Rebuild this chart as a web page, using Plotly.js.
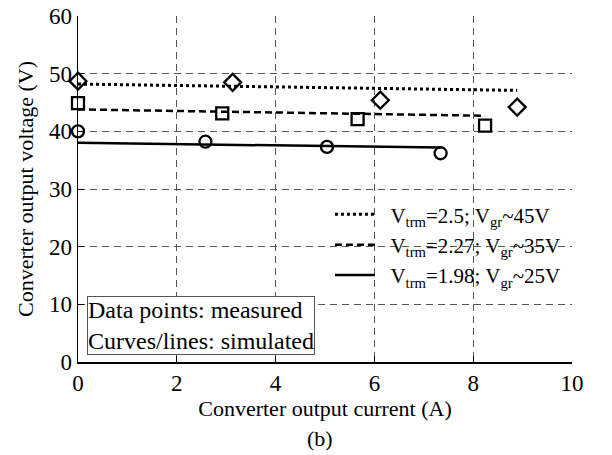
<!DOCTYPE html>
<html>
<head>
<meta charset="utf-8">
<script src="https://cdn.plot.ly/plotly-3.0.1.min.js"></script>
<style>html,body{margin:0;padding:0;background:#fff;}#chart{width:612px;height:455px;}</style>
</head>
<body>
<div id="chart"></div>
<script>
// Measured data points
const measX_25 = [0, 3.13, 6.12, 8.89];
const measY_25 = [48.7, 48.5, 45.4, 44.2];
const measX_227 = [0, 2.92, 5.66, 8.24];
const measY_227 = [44.9, 43.1, 42.1, 41.0];
const measX_198 = [0, 2.58, 5.04, 7.34];
const measY_198 = [40.0, 38.2, 37.3, 36.2];
// Simulated lines
const simX_25 = [0, 8.89];
const simY_25 = [48.2, 47.1];
const simX_227 = [0, 8.24];
const simY_227 = [43.8, 42.7];
const simX_198 = [0, 7.34];
const simY_198 = [38.0, 37.2];
const legendNames = [
  '&nbsp;&nbsp;V<sub>trm</sub>=2.5; V<sub>gr</sub>~45V',
  '&nbsp;&nbsp;V<sub>trm</sub>=2.27; V<sub>gr</sub>~35V',
  '&nbsp;&nbsp;V<sub>trm</sub>=1.98; V<sub>gr</sub>~25V'
];
const xTicks = [0, 2, 4, 6, 8, 10];
const yTicks = [0, 10, 20, 30, 40, 50, 60];

const FONT = 'Liberation Serif, Times New Roman, serif';
const traces = [
  {x: simX_25, y: simY_25, mode: 'lines', name: legendNames[0], legendgroup: 'a',
   line: {color: '#000', width: 3, dash: 'dot'}},
  {x: simX_227, y: simY_227, mode: 'lines', name: legendNames[1], legendgroup: 'b',
   line: {color: '#000', width: 2.5, dash: '7px,4px'}},
  {x: simX_198, y: simY_198, mode: 'lines', name: legendNames[2], legendgroup: 'c',
   line: {color: '#000', width: 2.5}},
  {x: measX_25, y: measY_25, mode: 'markers', showlegend: false, cliponaxis: false,
   marker: {symbol: 'diamond-open', size: 13, color: '#000', line: {width: 2.3, color: '#000'}}},
  {x: measX_227, y: measY_227, mode: 'markers', showlegend: false, cliponaxis: false,
   marker: {symbol: 'square-open', size: 12, color: '#000', line: {width: 2.3, color: '#000'}}},
  {x: measX_198, y: measY_198, mode: 'markers', showlegend: false, cliponaxis: false,
   marker: {symbol: 'circle-open', size: 12, color: '#000', line: {width: 2.3, color: '#000'}}}
];

const layout = {
  width: 612, height: 455,
  margin: {l: 78, r: 40, t: 16, b: 93},
  paper_bgcolor: '#fff', plot_bgcolor: '#fff',
  font: {family: FONT, color: '#000', size: 22},
  showlegend: true,
  legend: {x: 0.51, y: 0.485, xanchor: 'left', yanchor: 'top', bgcolor: 'rgba(0,0,0,0)',
           borderwidth: 0, itemwidth: 40, font: {family: FONT, size: 21, color: '#000'}, tracegroupgap: 0},
  xaxis: {range: [0, 10], tickvals: xTicks, ticktext: xTicks.map(String),
          showgrid: true, gridcolor: '#555', griddash: '7px,5px', gridwidth: 1,
          zeroline: false, showline: true, linecolor: '#000', linewidth: 1.5,
          ticks: 'inside', ticklen: 6, tickcolor: '#000',
          tickfont: {family: FONT, size: 23},
          title: {text: 'Converter output current (A)', font: {family: FONT, size: 22}, standoff: 2}},
  yaxis: {range: [0, 60], tickvals: yTicks, ticktext: yTicks.map(String),
          showgrid: true, gridcolor: '#555', griddash: '7px,5px', gridwidth: 1,
          zeroline: false, showline: true, linecolor: '#000', linewidth: 1.5,
          ticks: 'inside', ticklen: 6, tickcolor: '#000',
          tickfont: {family: FONT, size: 23},
          title: {text: 'Converter output voltage (V)', font: {family: FONT, size: 22}, standoff: 9}},
  annotations: [
    {xref: 'paper', yref: 'paper', x: 0.018, y: 0.02, xanchor: 'left', yanchor: 'bottom',
     text: 'Data points: measured<br>Curves/lines: simulated', align: 'left', showarrow: false,
     font: {family: FONT, size: 24, color: '#000'}, bgcolor: '#fff', bordercolor: '#555',
     borderwidth: 1, borderpad: 0},
    {xref: 'paper', yref: 'paper', x: 0.49, y: -0.22, xanchor: 'center', yanchor: 'middle',
     text: '(b)', showarrow: false, font: {family: FONT, size: 22, color: '#000'}}
  ]
};

Plotly.newPlot('chart', traces, layout, {staticPlot: true, displayModeBar: false});
</script>
</body>
</html>
